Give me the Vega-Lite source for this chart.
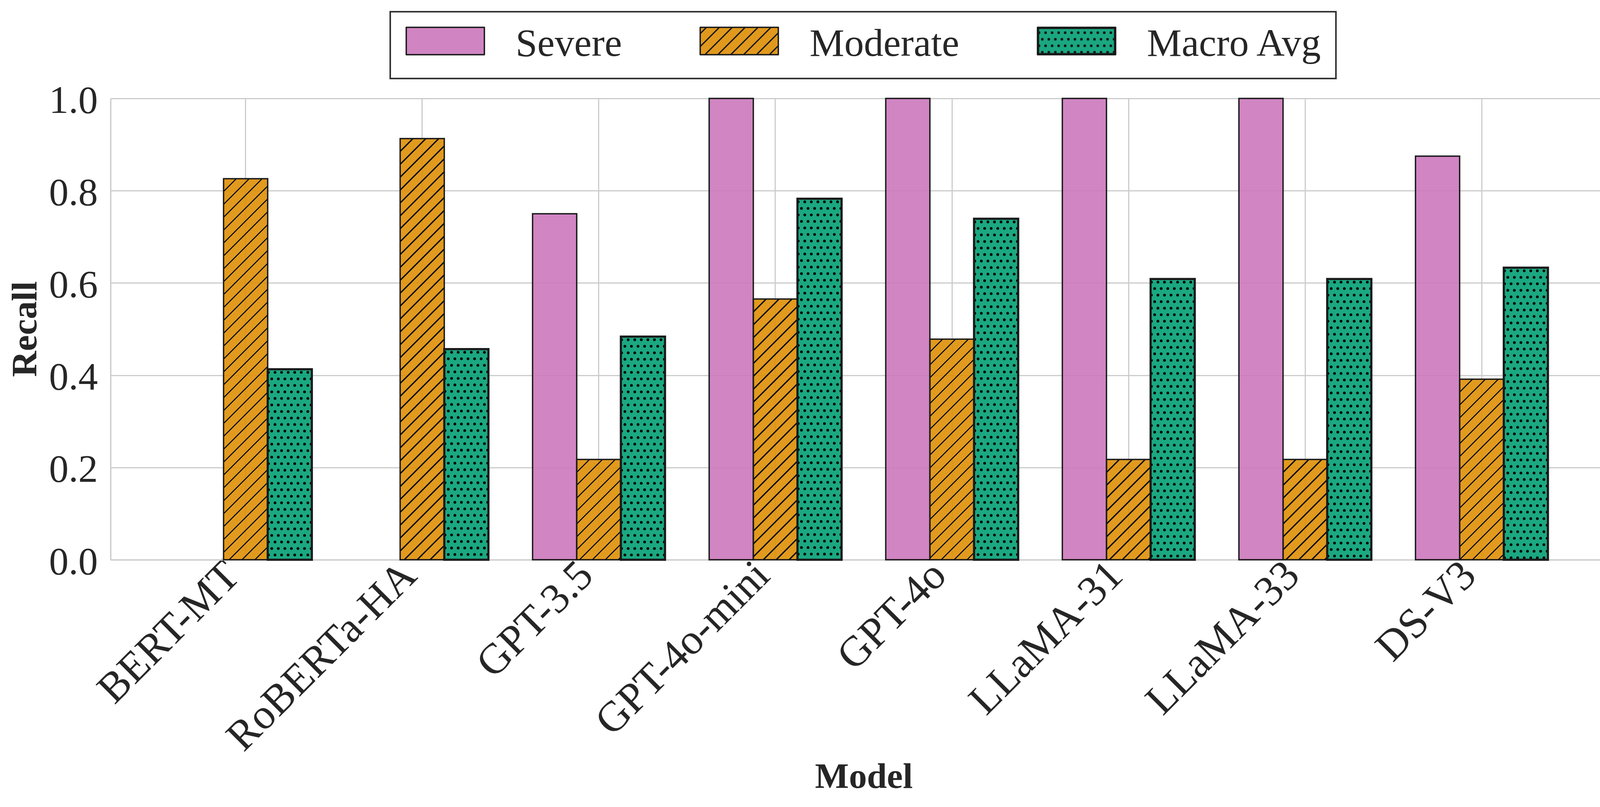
{
  "$schema": "https://vega.github.io/schema/vega-lite/v6.json",
  "autosize": {"type": "none"},
  "width": 3856,
  "height": 1181,
  "padding": {"left": 283, "top": 252, "right": 26, "bottom": 633},
  "background": "white",
  "config": {
    "font": "Liberation Serif",
    "view": {"stroke": null},
    "rule": {"color": "#000000", "strokeWidth": 7, "strokeCap": "round", "strokeDash": [0.01, 33.39]}
  },
  "data": {
    "values": [
      {"model": "BERT-MT", "metric": "Severe", "recall": 0},
      {"model": "BERT-MT", "metric": "Moderate", "recall": 0.8261},
      {"model": "BERT-MT", "metric": "Macro Avg", "recall": 0.413},
      {"model": "RoBERTa-HA", "metric": "Severe", "recall": 0},
      {"model": "RoBERTa-HA", "metric": "Moderate", "recall": 0.913},
      {"model": "RoBERTa-HA", "metric": "Macro Avg", "recall": 0.4565},
      {"model": "GPT-3.5", "metric": "Severe", "recall": 0.75},
      {"model": "GPT-3.5", "metric": "Moderate", "recall": 0.2174},
      {"model": "GPT-3.5", "metric": "Macro Avg", "recall": 0.4837},
      {"model": "GPT-4o-mini", "metric": "Severe", "recall": 1.0},
      {"model": "GPT-4o-mini", "metric": "Moderate", "recall": 0.5652},
      {"model": "GPT-4o-mini", "metric": "Macro Avg", "recall": 0.7826},
      {"model": "GPT-4o", "metric": "Severe", "recall": 1.0},
      {"model": "GPT-4o", "metric": "Moderate", "recall": 0.4783},
      {"model": "GPT-4o", "metric": "Macro Avg", "recall": 0.7391},
      {"model": "LLaMA-31", "metric": "Severe", "recall": 1.0},
      {"model": "LLaMA-31", "metric": "Moderate", "recall": 0.2174},
      {"model": "LLaMA-31", "metric": "Macro Avg", "recall": 0.6087},
      {"model": "LLaMA-33", "metric": "Severe", "recall": 1.0},
      {"model": "LLaMA-33", "metric": "Moderate", "recall": 0.2174},
      {"model": "LLaMA-33", "metric": "Macro Avg", "recall": 0.6087},
      {"model": "DS-V3", "metric": "Severe", "recall": 0.875},
      {"model": "DS-V3", "metric": "Moderate", "recall": 0.3913},
      {"model": "DS-V3", "metric": "Macro Avg", "recall": 0.6332}
    ]
  },
  "encoding": {
    "x": {
      "field": "model",
      "type": "nominal",
      "scale": {
        "domain": ["BERT-MT", "RoBERTa-HA", "GPT-3.5", "GPT-4o-mini", "GPT-4o", "LLaMA-31", "LLaMA-33", "DS-V3"],
        "paddingInner": 0.25,
        "paddingOuter": 0.39
      },
      "axis": {
        "title": "Model",
        "titleFontSize": 92,
        "titleFontWeight": "bold",
        "titleColor": "#262626",
        "titleX": 1928,
        "titleY": 583,
        "titleBaseline": "alphabetic",
        "titleAlign": "center",
        "labelAngle": -45,
        "labelAlign": "right",
        "labelBaseline": "top",
        "labelFontSize": 109,
        "labelColor": "#262626",
        "labelOffset": -70,
        "labelPadding": -15,
        "labelLimit": 0,
        "labelOverlap": false,
        "labelFlush": false,
        "ticks": false,
        "tickSize": 0,
        "domain": true,
        "domainColor": "#cccccc",
        "domainWidth": 3.5,
        "grid": true,
        "gridColor": "#cccccc",
        "gridWidth": 3,
        "bandPosition": 0.5
      }
    },
    "y": {
      "field": "recall",
      "type": "quantitative",
      "scale": {"domain": [0, 1], "nice": false},
      "axis": {
        "title": "Recall",
        "titleFontSize": 92,
        "titleFontWeight": "bold",
        "titleColor": "#262626",
        "titleX": -191,
        "titleY": 590,
        "titleAngle": -90,
        "titleBaseline": "alphabetic",
        "titleAlign": "center",
        "values": [0, 0.2, 0.4, 0.6, 0.8, 1.0],
        "format": ".1f",
        "labelFontSize": 100,
        "labelColor": "#262626",
        "labelPadding": 33,
        "labelOffset": 6,
        "labelFlush": false,
        "labelOverlap": false,
        "ticks": false,
        "tickSize": 0,
        "domain": true,
        "domainColor": "#cccccc",
        "domainWidth": 3.5,
        "grid": true,
        "gridColor": "#cccccc",
        "gridWidth": 3
      }
    }
  },
  "layer": [
    {
      "mark": {"type": "bar", "opacity": 0.9},
      "encoding": {
        "xOffset": {"field": "metric", "type": "nominal", "scale": {"domain": ["Severe", "Moderate", "Macro Avg"], "paddingInner": 0, "paddingOuter": 0}},
        "fill": {
          "field": "metric",
          "type": "nominal",
          "scale": {"domain": ["Severe", "Moderate", "Macro Avg"], "range": ["#CC78BC", "#DE8F05", "#029E73"]},
          "legend": {
            "orient": "none",
            "legendX": 716,
            "legendY": -222,
            "direction": "horizontal",
            "columns": 3,
            "title": null,
            "symbolType": "M-2.3611,0L-2.3611,0M0,1.1778L0,1.1778M-2.2222,-0.9556L2.2222,-0.9556L2.2222,0.6L-2.2222,0.6Z",
            "symbolSize": 8100,
            "symbolOffset": 58,
            "symbolStrokeColor": "#000000",
            "symbolStrokeWidth": 3.5,
            "symbolOpacity": 0.9,
            "labelFontSize": 100,
            "labelColor": "#262626",
            "labelOffset": 130,
            "labelLimit": 0,
            "columnPadding": 191.5,
            "padding": 33,
            "strokeColor": "#333333",
            "fillColor": "#ffffff",
            "cornerRadius": 0,
            "encode": {
              "symbols": {
                "update": {
                  "shape": [
                    {
                      "test": "datum.value === 'Macro Avg'",
                      "value": "M-2.3611,0L-2.3611,0M0,1.1778L0,1.1778M-2.2222,-0.9556L2.2222,-0.9556L2.2222,0.6L-2.2222,0.6ZM-2.1667,-0.9L2.1667,-0.9L2.1667,0.5444L-2.1667,0.5444ZM-2.1667,-0.6867h0.0667v0.0667h-0.0667zM-1.7956,-0.6867h0.0667v0.0667h-0.0667zM-1.4244,-0.6867h0.0667v0.0667h-0.0667zM-1.0533,-0.6867h0.0667v0.0667h-0.0667zM-0.6822,-0.6867h0.0667v0.0667h-0.0667zM-0.3111,-0.6867h0.0667v0.0667h-0.0667zM0.06,-0.6867h0.0667v0.0667h-0.0667zM0.4311,-0.6867h0.0667v0.0667h-0.0667zM0.8022,-0.6867h0.0667v0.0667h-0.0667zM1.1733,-0.6867h0.0667v0.0667h-0.0667zM1.5444,-0.6867h0.0667v0.0667h-0.0667zM1.9156,-0.6867h0.0667v0.0667h-0.0667zM-1.9822,-0.3156h0.0667v0.0667h-0.0667zM-1.6111,-0.3156h0.0667v0.0667h-0.0667zM-1.24,-0.3156h0.0667v0.0667h-0.0667zM-0.8689,-0.3156h0.0667v0.0667h-0.0667zM-0.4978,-0.3156h0.0667v0.0667h-0.0667zM-0.1267,-0.3156h0.0667v0.0667h-0.0667zM0.2444,-0.3156h0.0667v0.0667h-0.0667zM0.6156,-0.3156h0.0667v0.0667h-0.0667zM0.9867,-0.3156h0.0667v0.0667h-0.0667zM1.3578,-0.3156h0.0667v0.0667h-0.0667zM1.7289,-0.3156h0.0667v0.0667h-0.0667zM2.1,-0.3156h0.0667v0.0667h-0.0667zM-2.1667,0.0556h0.0667v0.0667h-0.0667zM-1.7956,0.0556h0.0667v0.0667h-0.0667zM-1.4244,0.0556h0.0667v0.0667h-0.0667zM-1.0533,0.0556h0.0667v0.0667h-0.0667zM-0.6822,0.0556h0.0667v0.0667h-0.0667zM-0.3111,0.0556h0.0667v0.0667h-0.0667zM0.06,0.0556h0.0667v0.0667h-0.0667zM0.4311,0.0556h0.0667v0.0667h-0.0667zM0.8022,0.0556h0.0667v0.0667h-0.0667zM1.1733,0.0556h0.0667v0.0667h-0.0667zM1.5444,0.0556h0.0667v0.0667h-0.0667zM1.9156,0.0556h0.0667v0.0667h-0.0667zM-1.9822,0.4244h0.0667v0.0667h-0.0667zM-1.6111,0.4244h0.0667v0.0667h-0.0667zM-1.24,0.4244h0.0667v0.0667h-0.0667zM-0.8689,0.4244h0.0667v0.0667h-0.0667zM-0.4978,0.4244h0.0667v0.0667h-0.0667zM-0.1267,0.4244h0.0667v0.0667h-0.0667zM0.2444,0.4244h0.0667v0.0667h-0.0667zM0.6156,0.4244h0.0667v0.0667h-0.0667zM0.9867,0.4244h0.0667v0.0667h-0.0667zM1.3578,0.4244h0.0667v0.0667h-0.0667zM1.7289,0.4244h0.0667v0.0667h-0.0667zM2.1,0.4244h0.0667v0.0667h-0.0667z"
                    },
                    {
                      "test": "datum.value === 'Moderate'",
                      "value": "M-2.3611,0L-2.3611,0M0,1.1778L0,1.1778M-2.2222,-0.9556L2.2222,-0.9556L2.2222,0.6L-2.2222,0.6ZM-2.2222,-0.6L-1.8667,-0.9556M-2.2222,0.1333L-1.1333,-0.9556M-1.9556,0.6L-0.4,-0.9556M-1.2222,0.6L0.3333,-0.9556M-0.4889,0.6L1.0667,-0.9556M0.2444,0.6L1.8,-0.9556M0.9778,0.6L2.2222,-0.6444M1.7111,0.6L2.2222,0.0889"
                    },
                    {"value": "M-2.3611,0L-2.3611,0M0,1.1778L0,1.1778M-2.2222,-0.9556L2.2222,-0.9556L2.2222,0.6L-2.2222,0.6Z"}
                  ],
                  "stroke": {"value": "#000000"},
                  "strokeWidth": {"value": 3.5},
                  "strokeJoin": {"value": "round"}
                }
              },
              "legend": {"update": {"strokeWidth": {"value": 4}}}
            }
          }
        }
      }
    },
    {
      "transform": [{"filter": "datum.metric === 'Moderate'"}],
      "mark": {
        "type": "bar",
        "fill": {"expr": "{gradient:'linear',x1:0,y1:0,x2:1320*113/(12769+pow(scale('y',0)-scale('y',datum.recall),2)),y2:1320*(scale('y',0)-scale('y',datum.recall))/(12769+pow(scale('y',0)-scale('y',datum.recall),2)),stops:[{offset:0,color:'transparent'},{offset:0.0233,color:'transparent'},{offset:0.0233,color:'#111'},{offset:0.0267,color:'#111'},{offset:0.0267,color:'transparent'},{offset:0.0483,color:'transparent'},{offset:0.0483,color:'#111'},{offset:0.0517,color:'#111'},{offset:0.0517,color:'transparent'},{offset:0.0733,color:'transparent'},{offset:0.0733,color:'#111'},{offset:0.0767,color:'#111'},{offset:0.0767,color:'transparent'},{offset:0.0983,color:'transparent'},{offset:0.0983,color:'#111'},{offset:0.1017,color:'#111'},{offset:0.1017,color:'transparent'},{offset:0.1233,color:'transparent'},{offset:0.1233,color:'#111'},{offset:0.1267,color:'#111'},{offset:0.1267,color:'transparent'},{offset:0.1483,color:'transparent'},{offset:0.1483,color:'#111'},{offset:0.1517,color:'#111'},{offset:0.1517,color:'transparent'},{offset:0.1733,color:'transparent'},{offset:0.1733,color:'#111'},{offset:0.1767,color:'#111'},{offset:0.1767,color:'transparent'},{offset:0.1983,color:'transparent'},{offset:0.1983,color:'#111'},{offset:0.2017,color:'#111'},{offset:0.2017,color:'transparent'},{offset:0.2233,color:'transparent'},{offset:0.2233,color:'#111'},{offset:0.2267,color:'#111'},{offset:0.2267,color:'transparent'},{offset:0.2483,color:'transparent'},{offset:0.2483,color:'#111'},{offset:0.2517,color:'#111'},{offset:0.2517,color:'transparent'},{offset:0.2733,color:'transparent'},{offset:0.2733,color:'#111'},{offset:0.2767,color:'#111'},{offset:0.2767,color:'transparent'},{offset:0.2983,color:'transparent'},{offset:0.2983,color:'#111'},{offset:0.3017,color:'#111'},{offset:0.3017,color:'transparent'},{offset:0.3233,color:'transparent'},{offset:0.3233,color:'#111'},{offset:0.3267,color:'#111'},{offset:0.3267,color:'transparent'},{offset:0.3483,color:'transparent'},{offset:0.3483,color:'#111'},{offset:0.3517,color:'#111'},{offset:0.3517,color:'transparent'},{offset:0.3733,color:'transparent'},{offset:0.3733,color:'#111'},{offset:0.3767,color:'#111'},{offset:0.3767,color:'transparent'},{offset:0.3983,color:'transparent'},{offset:0.3983,color:'#111'},{offset:0.4017,color:'#111'},{offset:0.4017,color:'transparent'},{offset:0.4233,color:'transparent'},{offset:0.4233,color:'#111'},{offset:0.4267,color:'#111'},{offset:0.4267,color:'transparent'},{offset:0.4483,color:'transparent'},{offset:0.4483,color:'#111'},{offset:0.4517,color:'#111'},{offset:0.4517,color:'transparent'},{offset:0.4733,color:'transparent'},{offset:0.4733,color:'#111'},{offset:0.4767,color:'#111'},{offset:0.4767,color:'transparent'},{offset:0.4983,color:'transparent'},{offset:0.4983,color:'#111'},{offset:0.5017,color:'#111'},{offset:0.5017,color:'transparent'},{offset:0.5233,color:'transparent'},{offset:0.5233,color:'#111'},{offset:0.5267,color:'#111'},{offset:0.5267,color:'transparent'},{offset:0.5483,color:'transparent'},{offset:0.5483,color:'#111'},{offset:0.5517,color:'#111'},{offset:0.5517,color:'transparent'},{offset:0.5733,color:'transparent'},{offset:0.5733,color:'#111'},{offset:0.5767,color:'#111'},{offset:0.5767,color:'transparent'},{offset:0.5983,color:'transparent'},{offset:0.5983,color:'#111'},{offset:0.6017,color:'#111'},{offset:0.6017,color:'transparent'},{offset:0.6233,color:'transparent'},{offset:0.6233,color:'#111'},{offset:0.6267,color:'#111'},{offset:0.6267,color:'transparent'},{offset:0.6483,color:'transparent'},{offset:0.6483,color:'#111'},{offset:0.6517,color:'#111'},{offset:0.6517,color:'transparent'},{offset:0.6733,color:'transparent'},{offset:0.6733,color:'#111'},{offset:0.6767,color:'#111'},{offset:0.6767,color:'transparent'},{offset:0.6983,color:'transparent'},{offset:0.6983,color:'#111'},{offset:0.7017,color:'#111'},{offset:0.7017,color:'transparent'},{offset:0.7233,color:'transparent'},{offset:0.7233,color:'#111'},{offset:0.7267,color:'#111'},{offset:0.7267,color:'transparent'},{offset:0.7483,color:'transparent'},{offset:0.7483,color:'#111'},{offset:0.7517,color:'#111'},{offset:0.7517,color:'transparent'},{offset:0.7733,color:'transparent'},{offset:0.7733,color:'#111'},{offset:0.7767,color:'#111'},{offset:0.7767,color:'transparent'},{offset:0.7983,color:'transparent'},{offset:0.7983,color:'#111'},{offset:0.8017,color:'#111'},{offset:0.8017,color:'transparent'},{offset:0.8233,color:'transparent'},{offset:0.8233,color:'#111'},{offset:0.8267,color:'#111'},{offset:0.8267,color:'transparent'},{offset:0.8483,color:'transparent'},{offset:0.8483,color:'#111'},{offset:0.8517,color:'#111'},{offset:0.8517,color:'transparent'},{offset:0.8733,color:'transparent'},{offset:0.8733,color:'#111'},{offset:0.8767,color:'#111'},{offset:0.8767,color:'transparent'},{offset:0.8983,color:'transparent'},{offset:0.8983,color:'#111'},{offset:0.9017,color:'#111'},{offset:0.9017,color:'transparent'},{offset:0.9233,color:'transparent'},{offset:0.9233,color:'#111'},{offset:0.9267,color:'#111'},{offset:0.9267,color:'transparent'},{offset:1,color:'transparent'}]}"}
      },
      "encoding": {
        "xOffset": {"field": "metric", "type": "nominal", "scale": {"domain": ["Severe", "Moderate", "Macro Avg"], "paddingInner": 0, "paddingOuter": 0}}
      }
    },
    {
      "transform": [{"filter": "datum.metric === 'Macro Avg'"}],
      "encoding": {"y2": {"datum": 0}},
      "layer": [
        {"mark": {"type": "rule", "xOffset": 58.4, "strokeDashOffset": 25.4}},
        {"mark": {"type": "rule", "xOffset": 66.8, "strokeDashOffset": 8.7}},
        {"mark": {"type": "rule", "xOffset": 75.2, "strokeDashOffset": 25.4}},
        {"mark": {"type": "rule", "xOffset": 83.6, "strokeDashOffset": 8.7}},
        {"mark": {"type": "rule", "xOffset": 92.0, "strokeDashOffset": 25.4}},
        {"mark": {"type": "rule", "xOffset": 100.4, "strokeDashOffset": 8.7}},
        {"mark": {"type": "rule", "xOffset": 108.8, "strokeDashOffset": 25.4}},
        {"mark": {"type": "rule", "xOffset": 117.2, "strokeDashOffset": 8.7}},
        {"mark": {"type": "rule", "xOffset": 125.6, "strokeDashOffset": 25.4}},
        {"mark": {"type": "rule", "xOffset": 134.0, "strokeDashOffset": 8.7}},
        {"mark": {"type": "rule", "xOffset": 142.4, "strokeDashOffset": 25.4}},
        {"mark": {"type": "rule", "xOffset": 150.8, "strokeDashOffset": 8.7}},
        {"mark": {"type": "rule", "xOffset": 159.2, "strokeDashOffset": 25.4}},
        {"mark": {"type": "rule", "xOffset": 167.6, "strokeDashOffset": 8.7}}
      ]
    },
    {
      "mark": {"type": "bar", "fill": "transparent"},
      "encoding": {
        "xOffset": {"field": "metric", "type": "nominal", "scale": {"domain": ["Severe", "Moderate", "Macro Avg"], "paddingInner": 0, "paddingOuter": 0}},
        "stroke": {"condition": {"test": "datum.recall > 0", "value": "#1a1a1a"}, "value": "transparent"},
        "strokeWidth": {"condition": {"test": "datum.metric === 'Macro Avg'", "value": 5.5}, "value": 3.5}
      }
    }
  ]
}
